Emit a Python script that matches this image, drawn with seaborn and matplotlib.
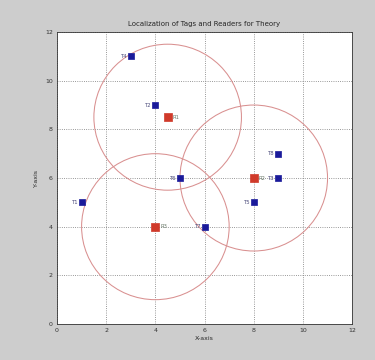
"""Tag and reader positions with reader coverage circles."""

import matplotlib

matplotlib.use("Agg")
import matplotlib.pyplot as plt
import pandas as pd
import seaborn as sns
from matplotlib.patches import Circle

# tags (blue) and readers (red)
TAG_NAMES = ["T1", "T2", "T3", "T4", "T5", "T6", "T7", "T8"]
TAG_X = [1, 4, 9, 3, 8, 5, 6, 9]
TAG_Y = [5, 9, 6, 11, 5, 6, 4, 7]

READER_NAMES = ["R1", "R2", "R3"]
READER_X = [4.5, 8, 4]
READER_Y = [8.5, 6, 4]
READER_RANGE = [3, 3, 3]

X_TICKS = [0, 2, 4, 6, 8, 10, 12]
Y_TICKS = [0, 2, 4, 6, 8, 10, 12]

TITLE = "Localization of Tags and Readers for Theory"
X_LABEL = "X-axis"
Y_LABEL = "Y-axis"

sns.set_style("white")
plt.rcParams["font.family"] = ["DejaVu Sans"]

tags = pd.DataFrame({"name": TAG_NAMES, "x": TAG_X, "y": TAG_Y})
readers = pd.DataFrame({"name": READER_NAMES, "x": READER_X, "y": READER_Y, "r": READER_RANGE})

fig = plt.figure(figsize=(3.75, 3.6), dpi=100, facecolor="#cdcdcd")
ax = fig.add_axes([0.152, 0.1, 0.787, 0.811])
ax.set_facecolor("white")

for _, row in readers.iterrows():
    ax.add_patch(Circle((row.x, row.y), row.r, fill=False, edgecolor="#d99090", lw=0.75))

sns.scatterplot(data=tags, x="x", y="y", ax=ax, marker="s", s=14, color="#1a1a9a",
                edgecolor="#1a1a9a", linewidth=0.5, zorder=3)
sns.scatterplot(data=readers, x="x", y="y", ax=ax, marker="s", s=30, color="#d03a2a",
                edgecolor="#d03a2a", linewidth=0.5, zorder=3)

for _, row in tags.iterrows():
    ax.text(row.x - 0.14, row.y, row["name"], fontsize=3.8, color="#4a4a7a",
            ha="right", va="center")
for _, row in readers.iterrows():
    ax.text(row.x + 0.2, row.y, row["name"], fontsize=3.8, color="#6a7a6a",
            ha="left", va="center")

ax.set_xlim(0, 12)
ax.set_ylim(0, 12)
ax.set_xticks(X_TICKS)
ax.set_yticks(Y_TICKS)
ax.tick_params(labelsize=4.5, length=2, direction="in", pad=3, colors="#333333")
ax.grid(True, ls=":", color="#777777", lw=0.6)
for s in ax.spines.values():
    s.set_color("#333333")
    s.set_linewidth(0.6)

ax.set_title(TITLE, fontsize=5, pad=4)
ax.set_xlabel(X_LABEL, fontsize=4.5, labelpad=2)
ax.set_ylabel(Y_LABEL, fontsize=4.5, labelpad=4)

fig.savefig("out.png", dpi=100, facecolor=fig.get_facecolor())
